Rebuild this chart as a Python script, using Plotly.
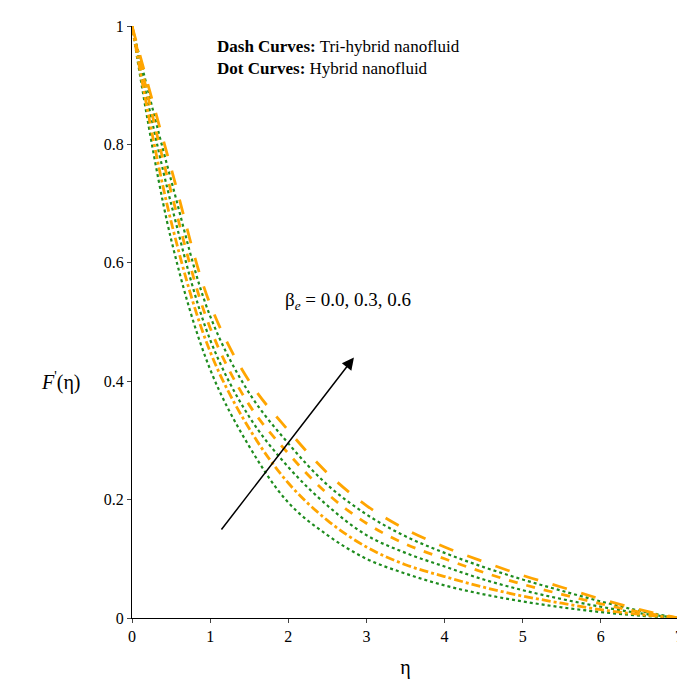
import plotly.graph_objects as go

eta = [0, 0.5, 1, 1.5, 2, 2.5, 3, 3.5, 4, 4.5, 5, 5.5, 6, 6.5, 7]
hyb_00 = [1, 0.64, 0.42, 0.29, 0.195, 0.14, 0.10, 0.075, 0.055, 0.04, 0.028, 0.018, 0.01, 0.004, 0]
tri_00 = [1, 0.67, 0.45, 0.32, 0.228, 0.165, 0.12, 0.09, 0.07, 0.052, 0.037, 0.025, 0.014, 0.006, 0]
hyb_03 = [1, 0.70, 0.47, 0.34, 0.255, 0.19, 0.14, 0.11, 0.087, 0.065, 0.047, 0.032, 0.019, 0.008, 0]
tri_03 = [1, 0.72, 0.49, 0.36, 0.278, 0.21, 0.16, 0.125, 0.10, 0.077, 0.057, 0.04, 0.024, 0.01, 0]
hyb_06 = [1, 0.74, 0.51, 0.38, 0.295, 0.225, 0.175, 0.138, 0.11, 0.086, 0.065, 0.046, 0.028, 0.012, 0]
tri_06 = [1, 0.76, 0.53, 0.40, 0.317, 0.245, 0.19, 0.15, 0.12, 0.095, 0.072, 0.052, 0.032, 0.014, 0]

orange = "#FFA500"
green = "#1E8C1E"
font = "Liberation Serif"

fig = go.Figure()
for ys in [hyb_00, hyb_03, hyb_06]:
    fig.add_trace(go.Scatter(x=eta, y=ys, mode="lines", line_shape="spline",
                             line=dict(color=green, width=2.2, dash="dot")))
for ys, d in [(tri_00, "dashdot"), (tri_03, "dash"), (tri_06, "longdash")]:
    fig.add_trace(go.Scatter(x=eta, y=ys, mode="lines", line_shape="spline",
                             line=dict(color=orange, width=2.8, dash=d)))

fig.add_annotation(x=2.84, y=0.44, ax=1.13, ay=0.147, xref="x", yref="y", axref="x", ayref="y",
                   showarrow=True, arrowhead=2, arrowsize=1.6, arrowwidth=1.5, arrowcolor="black", text="")
fig.add_annotation(x=1.93, y=0.535, xref="x", yref="y", xanchor="left", showarrow=False,
                   text="β<sub><i>e</i></sub> = 0.0, 0.3, 0.6", font=dict(size=19, color="black"))
fig.add_annotation(x=1.06, y=0.985, xref="x", yref="y", xanchor="left", yanchor="top", showarrow=False,
                   align="left",
                   text="<b>Dash Curves:</b> Tri-hybrid nanofluid<br><b>Dot Curves:</b> Hybrid nanofluid",
                   font=dict(size=17, color="black"))
fig.add_annotation(x=-0.17, y=0.4, xref="paper", yref="y", showarrow=False, xanchor="left",
                   text="<i>F</i><sup>'</sup>(η)", font=dict(size=20))

fig.update_layout(
    width=685, height=685, showlegend=False,
    plot_bgcolor="white", paper_bgcolor="white",
    font=dict(family=font, size=16, color="black"),
    margin=dict(l=124, r=10, t=10, b=75),
    xaxis=dict(range=[0, 7], dtick=1, showline=True, linecolor="black", ticks="outside",
               ticklen=4, showgrid=False, zeroline=False,
               title=dict(text="η", font=dict(size=20))),
    yaxis=dict(range=[0, 1], tickvals=[0, 0.2, 0.4, 0.6, 0.8, 1],
               ticktext=["0", "0.2", "0.4", "0.6", "0.8", "1"], showline=True, linecolor="black",
               ticks="outside", ticklen=4, showgrid=False, zeroline=False),
)

fig.write_html("out.html")
